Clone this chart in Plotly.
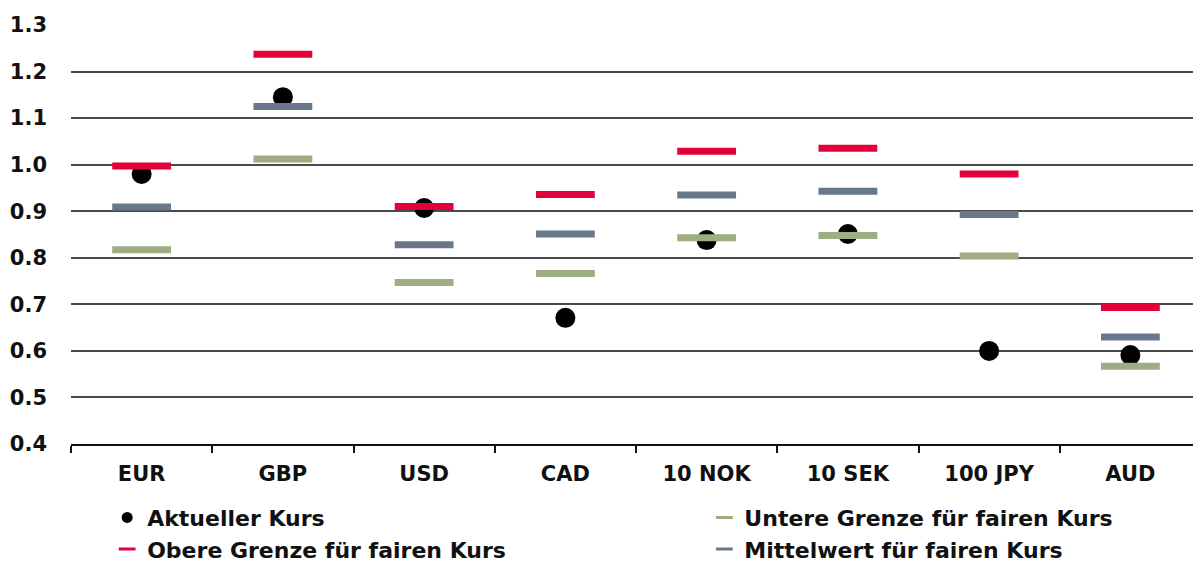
import plotly.graph_objects as go

categories = ["EUR", "GBP", "USD", "CAD", "10 NOK", "10 SEK", "100 JPY", "AUD"]
aktueller = [0.980, 1.145, 0.907, 0.671, 0.838, 0.851, 0.600, 0.591]
untere = [0.817, 1.012, 0.747, 0.766, 0.843, 0.848, 0.804, 0.567]
obere = [0.997, 1.237, 0.910, 0.936, 1.029, 1.035, 0.980, 0.693]
mittel = [0.909, 1.125, 0.828, 0.851, 0.935, 0.943, 0.893, 0.630]
y_ticks = [0.4, 0.5, 0.6, 0.7, 0.8, 0.9, 1.0, 1.1, 1.2, 1.3]

names = ["Aktueller Kurs", "Untere Grenze für fairen Kurs",
         "Obere Grenze für fairen Kurs", "Mittelwert für fairen Kurs"]
RED = "#E4003A"
GREEN = "#9EAD82"
GRAY = "#687789"
FONT = "DejaVu Sans"

fig = go.Figure()
# data traces
fig.add_trace(go.Scatter(x=categories, y=aktueller, mode="markers", showlegend=False,
                         marker=dict(symbol="circle", size=20, color="black")))
for vals, col in [(untere, GREEN), (obere, RED), (mittel, GRAY)]:
    fig.add_trace(go.Scatter(x=categories, y=vals, mode="markers", showlegend=False,
                             marker=dict(symbol="line-ew", size=42,
                                         line=dict(color=col, width=7))))
# legend-only traces (two legend columns)
fig.add_trace(go.Scatter(x=[None], y=[None], mode="markers", name=names[0], legend="legend",
                         marker=dict(symbol="circle", size=11, color="black")))
fig.add_trace(go.Scatter(x=[None], y=[None], mode="markers", name=names[2], legend="legend",
                         marker=dict(symbol="line-ew", size=12, line=dict(color=RED, width=3))))
fig.add_trace(go.Scatter(x=[None], y=[None], mode="markers", name=names[1], legend="legend2",
                         marker=dict(symbol="line-ew", size=12, line=dict(color=GREEN, width=3))))
fig.add_trace(go.Scatter(x=[None], y=[None], mode="markers", name=names[3], legend="legend2",
                         marker=dict(symbol="line-ew", size=12, line=dict(color=GRAY, width=3))))

leg_common = dict(orientation="v", xanchor="left", y=-0.1255, yanchor="top",
                  font=dict(family=FONT, size=22, weight="bold", color="#111111"),
                  traceorder="normal", itemclick=False, bgcolor="rgba(0,0,0,0)")

fig.update_layout(
    width=1193, height=561,
    margin=dict(l=63, r=0, t=17, b=125, autoexpand=False),
    paper_bgcolor="white", plot_bgcolor="white",
    font=dict(family=FONT, color="#111111"),
    showlegend=True,
    legend=dict(x=0.032, **leg_common),
    legend2=dict(x=0.5605, **leg_common),
    xaxis=dict(categoryorder="array", categoryarray=categories,
               range=[-0.5, len(categories) - 0.5],
               showline=True, linecolor="#111111", linewidth=2,
               ticks="outside", tickson="boundaries", ticklen=7, tickwidth=2, tickcolor="#111111",
               showgrid=False, ticklabelstandoff=10,
               tickfont=dict(family=FONT, size=21, weight="bold", color="#111111")),
    yaxis=dict(range=[0.4, 1.3], tickvals=y_ticks, ticktext=[f"{v:.1f}" for v in y_ticks],
               showgrid=True, gridcolor="#4a4a4a", gridwidth=1.5, zeroline=False,
               showline=False, ticks="", ticklabelstandoff=23,
               tickfont=dict(family=FONT, size=21, weight="bold", color="#111111")),
)

fig.write_html("out.html")
